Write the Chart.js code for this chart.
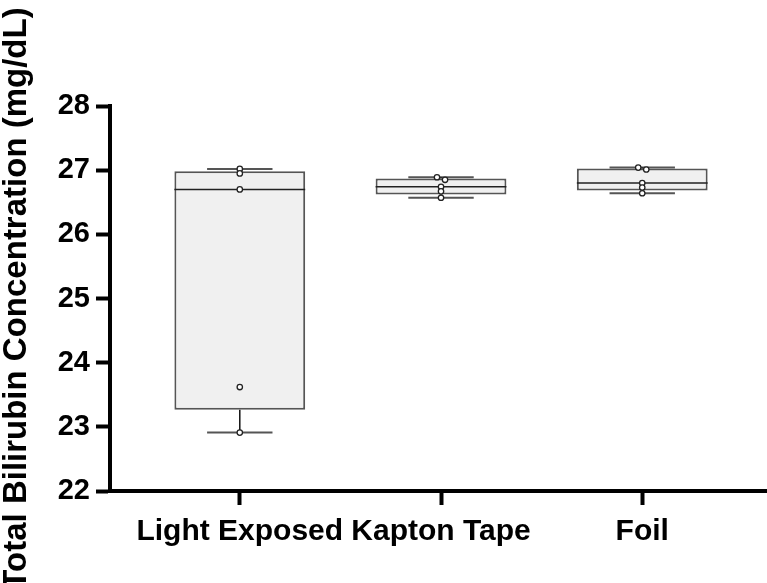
<!DOCTYPE html>
<html>
<head>
<meta charset="utf-8">
<script src="https://cdn.jsdelivr.net/npm/chart.js@4/dist/chart.umd.min.js"></script>
<style>
  html, body { margin: 0; padding: 0; background: #ffffff; }
  #wrap { width: 767px; height: 583px; }
</style>
</head>
<body>
<div id="wrap"><canvas id="c" width="767" height="583"></canvas></div>
<script>
// Groups
const categories = ['Light Exposed', 'Kapton Tape', 'Foil'];

// Individual measurements (mg/dL) per group
const lightExposed = [22.91, 23.62, 26.70, 26.95, 27.02];
const kaptonTape   = [26.57, 26.67, 26.74, 26.85, 26.89];
const foil         = [26.64, 26.73, 26.80, 27.01, 27.04];

// Box summary per group: whisker ends, quartiles, median
const minValues    = [22.91, 26.57, 26.64];
const q1Values     = [23.265, 26.62, 26.685];
const medianValues = [26.70, 26.74, 26.80];
const q3Values     = [26.985, 26.87, 27.025];
const maxValues    = [27.02, 26.89, 27.04];

// Y axis ticks
const yTicks = [22, 23, 24, 25, 26, 27, 28];

const groups = [lightExposed, kaptonTape, foil];
const BOX_HALF = 0.325;   // half box width, in group units
const CAP_HALF = 0.1625;  // half whisker-cap width
const FONT = '"Liberation Sans", Arial, sans-serif';

// Boxes as floating bars
const boxData = categories.map((_, i) => ({ x: i + 1, y: [q1Values[i], q3Values[i]] }));

// Median segments
const medianData = [];
categories.forEach((_, i) => {
  medianData.push({ x: i + 1 - BOX_HALF, y: medianValues[i] });
  medianData.push({ x: i + 1 + BOX_HALF, y: medianValues[i] });
  medianData.push({ x: i + 1, y: null });
});

// Vertical whisker stems
const stemData = [];
categories.forEach((_, i) => {
  stemData.push({ x: i + 1, y: q3Values[i] }, { x: i + 1, y: maxValues[i] }, { x: i + 1, y: null });
  stemData.push({ x: i + 1, y: q1Values[i] }, { x: i + 1, y: minValues[i] }, { x: i + 1, y: null });
});

// Whisker caps
const capData = [];
categories.forEach((_, i) => {
  [minValues[i], maxValues[i]].forEach(v => {
    capData.push({ x: i + 1 - CAP_HALF, y: v }, { x: i + 1 + CAP_HALF, y: v }, { x: i + 1, y: null });
  });
});

// Scatter of raw values; near-equal neighbours are nudged sideways
const pointData = [];
groups.forEach((vals, i) => {
  const sorted = vals.slice().sort((a, b) => b - a);
  let k = 0;
  while (k < sorted.length) {
    if (k + 1 < sorted.length && Math.abs(sorted[k] - sorted[k + 1]) < 0.05) {
      pointData.push({ x: i + 1 - 0.02, y: sorted[k] });
      pointData.push({ x: i + 1 + 0.02, y: sorted[k + 1] });
      k += 2;
    } else {
      pointData.push({ x: i + 1, y: sorted[k] });
      k += 1;
    }
  }
});

new Chart(document.getElementById('c'), {
  type: 'bar',
  data: {
    datasets: [
      {
        type: 'scatter', data: pointData, order: 0,
        pointRadius: 2.7, pointBorderWidth: 1.3,
        pointBackgroundColor: '#ffffff', pointBorderColor: '#222222'
      },
      {
        type: 'line', data: medianData, order: 1, spanGaps: false,
        borderColor: '#222222', borderWidth: 1.5, pointRadius: 0, tension: 0
      },
      {
        type: 'line', data: stemData, order: 1, spanGaps: false,
        borderColor: '#111111', borderWidth: 1.5, pointRadius: 0, tension: 0
      },
      {
        type: 'line', data: capData, order: 1, spanGaps: false,
        borderColor: '#555555', borderWidth: 2, pointRadius: 0, tension: 0
      },
      {
        type: 'bar', data: boxData, order: 2,
        backgroundColor: '#f0f0f0', borderColor: '#555555', borderWidth: 2,
        borderSkipped: false, barPercentage: 0.65, categoryPercentage: 1
      }
    ]
  },
  options: {
    responsive: false,
    animation: false,
    events: [],
    layout: { autoPadding: false, padding: { top: 106, left: 0, right: 0, bottom: 0 } },
    plugins: { legend: { display: false }, tooltip: { enabled: false } },
    scales: {
      x: {
        type: 'linear', offset: false, min: 0.355, max: 3.62,
        afterBuildTicks: s => { s.ticks = categories.map((_, i) => ({ value: i + 1 })); },
        afterFit: s => { s.height = 92; s.paddingLeft = 0; s.paddingRight = 0; },
        ticks: {
          callback: v => categories[v - 1],
          font: { family: FONT, size: 30, weight: 'bold' },
          color: '#000000', padding: 9, maxRotation: 0, autoSkip: false
        },
        grid: {
          offset: false, drawOnChartArea: false, drawTicks: true, tickLength: 14,
          tickWidth: 4, tickColor: '#000000'
        },
        border: { display: true, width: 4, color: '#000000' }
      },
      y: {
        type: 'linear', min: 22, max: 28,
        afterBuildTicks: s => { s.ticks = yTicks.map(v => ({ value: v })); },
        afterFit: s => { s.width = 110; },
        ticks: {
          font: { family: FONT, size: 29, weight: 'bold' },
          color: '#000000', padding: 6
        },
        grid: {
          drawOnChartArea: false, drawTicks: true, tickLength: 14,
          tickWidth: 4, tickColor: '#000000'
        },
        border: { display: true, width: 4, color: '#000000' },
        title: {
          display: true,
          text: 'Total Bilirubin Concentration (mg/dL)',
          font: { family: FONT, size: 33, weight: 'bold', lineHeight: 1.05 },
          color: '#000000', padding: { top: 0, bottom: 0 }
        }
      }
    }
  }
});
</script>
</body>
</html>
